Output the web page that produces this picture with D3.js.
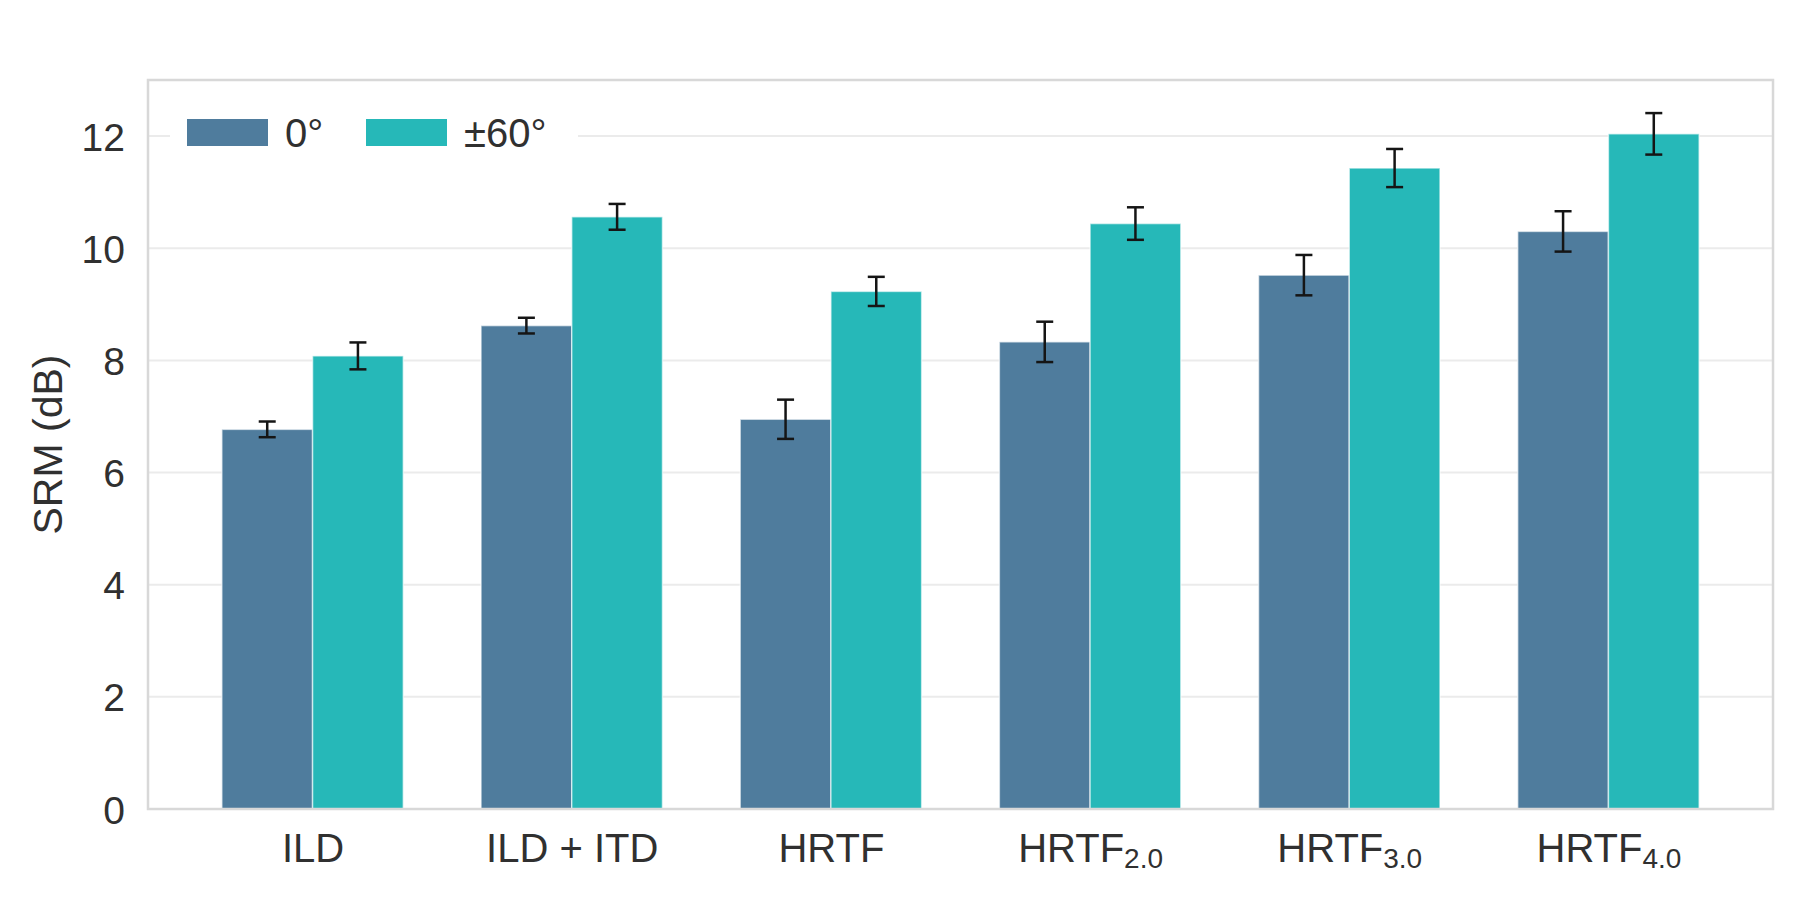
<html>
<head>
<meta charset="utf-8">
<script src="https://cdn.jsdelivr.net/npm/d3@7"></script>
<style>
  body { margin: 0; background: #fff; }
  text { font-family: "Liberation Sans", Arial, sans-serif; fill: #303030; }
</style>
</head>
<body>
<script>
// category labels, subscript part kept separate
var catBase = ["ILD", "ILD + ITD", "HRTF", "HRTF", "HRTF", "HRTF"];
var catSub  = ["", "", "", "2.0", "3.0", "4.0"];

// SRM means and error bar half-widths (dB)
var srm0   = [6.77, 8.62, 6.95, 8.33, 9.52, 10.30];
var err0   = [0.14, 0.14, 0.35, 0.36, 0.36, 0.36];
var srm60  = [8.08, 10.56, 9.23, 10.44, 11.43, 12.04];
var err60  = [0.24, 0.23, 0.26, 0.29, 0.34, 0.37];

var seriesNames = ["0°", "±60°"];
var yTicks = [0, 2, 4, 6, 8, 10, 12];

var width = 1800, height = 900;
// note: "top" is reserved on window, so plot edges get their own names
var plotL = 148, plotR = 1773, plotT = 80, plotB = 809;
var barW = 0.35;
var colors = ["#4f7c9d", "#26b8b8"];

var svg = d3.select("body").append("svg")
    .attr("width", width)
    .attr("height", height);

var x = d3.scaleLinear().domain([-0.635, 5.635]).range([plotL, plotR]);
var y = d3.scaleLinear().domain([0, 13]).range([plotB, plotT]);

// grid
svg.append("g").selectAll("line")
    .data(yTicks.slice(1))
    .enter().append("line")
    .attr("x1", plotL).attr("x2", plotR)
    .attr("y1", function(d) { return y(d); })
    .attr("y2", function(d) { return y(d); })
    .attr("stroke", "#ebebeb")
    .attr("stroke-width", 2);

var series = [
  { name: seriesNames[0], vals: srm0, errs: err0, off: -barW / 2, color: colors[0] },
  { name: seriesNames[1], vals: srm60, errs: err60, off: barW / 2, color: colors[1] }
];

series.forEach(function(s) {
  var g = svg.append("g");
  g.selectAll("rect")
    .data(s.vals)
    .enter().append("rect")
    .attr("x", function(d, i) { return x(i + s.off - barW / 2); })
    .attr("width", x(barW) - x(0))
    .attr("y", function(d) { return y(d); })
    .attr("height", function(d) { return y(0) - y(d); })
    .attr("fill", s.color)
    .attr("stroke", "#ffffff")
    .attr("stroke-opacity", 0.6)
    .attr("stroke-width", 1.5);
});

// error bars
series.forEach(function(s) {
  var g = svg.append("g")
      .attr("stroke", "#151515")
      .attr("stroke-width", 2.5);
  s.vals.forEach(function(v, i) {
    var cx = x(i + s.off);
    var lo = y(v - s.errs[i]), hi = y(v + s.errs[i]);
    g.append("line").attr("x1", cx).attr("x2", cx).attr("y1", lo).attr("y2", hi);
    g.append("line").attr("x1", cx - 8.5).attr("x2", cx + 8.5).attr("y1", lo).attr("y2", lo);
    g.append("line").attr("x1", cx - 8.5).attr("x2", cx + 8.5).attr("y1", hi).attr("y2", hi);
  });
});

// frame
svg.append("rect")
    .attr("x", plotL).attr("y", plotT)
    .attr("width", plotR - plotL).attr("height", plotB - plotT)
    .attr("fill", "none")
    .attr("stroke", "#d8d8d8")
    .attr("stroke-width", 2.5);

// y axis
var yAxis = svg.append("g")
    .attr("transform", "translate(" + plotL + ",0)")
    .call(d3.axisLeft(y).tickValues(yTicks).tickSize(0).tickPadding(23));
yAxis.select(".domain").remove();
yAxis.selectAll("text")
    .attr("font-size", 39)
    .attr("font-family", "Liberation Sans, Arial, sans-serif")
    .attr("fill", "#303030")
    .attr("dy", "0.36em");

// x axis
var xAxis = svg.append("g")
    .attr("transform", "translate(0," + plotB + ")")
    .call(d3.axisBottom(x).tickValues(d3.range(catBase.length)).tickSize(0).tickFormat(""));
xAxis.select(".domain").remove();
xAxis.selectAll(".tick text").each(function(d) {
  var t = d3.select(this)
      .attr("y", 53)
      .attr("dy", null)
      .attr("font-size", 40)
      .attr("font-family", "Liberation Sans, Arial, sans-serif")
      .attr("fill", "#303030")
      .attr("text-anchor", "middle");
  t.text(null);
  t.append("tspan").text(catBase[d]);
  if (catSub[d]) {
    t.append("tspan").attr("dy", 6).attr("font-size", 28).text(catSub[d]);
  }
});

// y label
svg.append("text")
    .attr("transform", "translate(62," + (plotT + plotB) / 2 + ") rotate(-90)")
    .attr("text-anchor", "middle")
    .attr("font-size", 41)
    .text("SRM (dB)");

// legend
var legend = svg.append("g");
legend.append("rect")
    .attr("x", 170).attr("y", 100)
    .attr("width", 408).attr("height", 68)
    .attr("fill", "#ffffff");
var legX = [187, 366];
series.forEach(function(s, i) {
  legend.append("rect")
      .attr("x", legX[i]).attr("y", 119)
      .attr("width", 81).attr("height", 27)
      .attr("fill", s.color);
  legend.append("text")
      .attr("x", legX[i] + 98).attr("y", 147)
      .attr("font-size", 40)
      .text(s.name);
});
</script>
</body>
</html>
